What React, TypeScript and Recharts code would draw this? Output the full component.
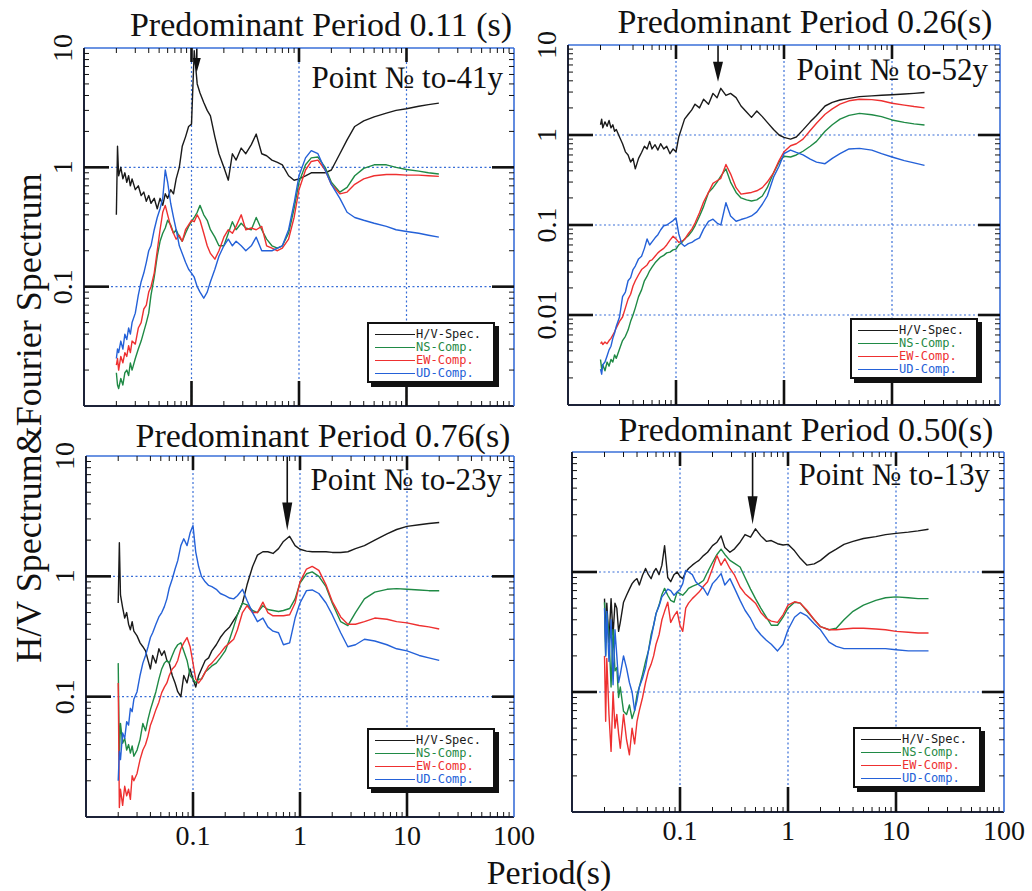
import React from 'react';
import { LineChart, Line, XAxis, YAxis, ReferenceLine, Legend } from 'recharts';

// ---------- DATA ----------
const PERIODS = [
  0.02, 0.0205, 0.021, 0.022, 0.023, 0.024, 0.025, 0.026, 0.027, 0.028,
  0.03, 0.032, 0.034, 0.036, 0.038, 0.04, 0.042, 0.045, 0.048, 0.051,
  0.054, 0.057, 0.06, 0.064, 0.068, 0.072, 0.077, 0.082, 0.088, 0.094,
  0.1, 0.106, 0.113, 0.12, 0.13, 0.14, 0.15, 0.165, 0.18, 0.2,
  0.22, 0.24, 0.26, 0.29, 0.32, 0.36, 0.4, 0.45, 0.5, 0.56,
  0.63, 0.7, 0.8, 0.9, 1.0, 1.15, 1.3, 1.5, 1.75, 2.0,
  2.4, 2.8, 3.3, 4, 5, 6.5, 8, 10, 13, 16, 20,
];

// Panel A: to-41y
const A_HV = [
  0.4, 1.5, 0.85, 1.0, 0.8, 0.9, 0.75, 0.85, 0.7, 0.8,
  0.65, 0.7, 0.58, 0.62, 0.52, 0.58, 0.5, 0.55, 0.45, 0.55,
  0.48, 0.6, 0.55, 0.65, 0.6, 0.8, 1.0, 1.5, 1.8, 2.2,
  2.3, 9.5, 5.0, 4.2, 3.5, 3.0, 2.7, 1.8, 1.3, 1.0,
  0.78, 1.3, 1.15, 1.45, 1.3, 1.55, 1.9, 1.3, 1.25, 1.15,
  1.1, 1.05, 0.85, 0.78, 0.8, 0.85, 0.9, 0.9, 0.9, 0.95,
  1.3, 1.7, 2.2, 2.45, 2.65, 2.85, 3.0, 3.1, 3.25, 3.35, 3.45,
];
const A_NS = [
  0.019, 0.015, 0.014, 0.017, 0.015, 0.019, 0.02, 0.018, 0.023, 0.02,
  0.025, 0.03, 0.035, 0.042, 0.05, 0.06, 0.085, 0.12, 0.18, 0.24,
  0.28, 0.31, 0.36, 0.33, 0.28, 0.3, 0.26, 0.24, 0.28, 0.32,
  0.35, 0.38, 0.42, 0.48, 0.4, 0.36, 0.3, 0.26, 0.22, 0.22,
  0.28, 0.35, 0.3, 0.34, 0.31, 0.3, 0.38, 0.3, 0.25, 0.22,
  0.21, 0.22, 0.28, 0.45, 0.75, 1.05, 1.2, 1.22, 1.0, 0.75,
  0.62, 0.68, 0.85, 0.98, 1.05, 1.05, 1.0, 0.96, 0.93, 0.9, 0.88,
];
const A_EW = [
  0.022, 0.025, 0.02, 0.026, 0.023, 0.028, 0.026, 0.032, 0.028, 0.035,
  0.033, 0.045, 0.05, 0.065, 0.07, 0.09, 0.1, 0.13, 0.2, 0.3,
  0.42, 0.48, 0.4, 0.32, 0.28, 0.25, 0.27, 0.24, 0.3, 0.33,
  0.36, 0.35, 0.4, 0.36, 0.28, 0.22, 0.19, 0.17, 0.2, 0.26,
  0.3, 0.28, 0.32, 0.4, 0.3, 0.31, 0.3, 0.32, 0.22, 0.21,
  0.2, 0.21, 0.25, 0.38, 0.65, 0.95, 1.12, 1.15, 0.95, 0.72,
  0.6, 0.62, 0.72, 0.8, 0.85, 0.87, 0.87, 0.86, 0.86, 0.85, 0.84,
];
const A_UD = [
  0.025, 0.03, 0.028, 0.035, 0.03, 0.04, 0.036, 0.045, 0.04, 0.05,
  0.06, 0.085, 0.11, 0.13, 0.16, 0.2, 0.22, 0.3, 0.38, 0.45,
  0.55, 0.95, 0.75, 0.5, 0.38, 0.3, 0.22, 0.19, 0.16, 0.14,
  0.13, 0.12, 0.1, 0.09, 0.08, 0.09, 0.11, 0.14, 0.18, 0.22,
  0.25, 0.22, 0.24, 0.22, 0.2, 0.22, 0.26, 0.2, 0.2, 0.2,
  0.21, 0.22, 0.3, 0.5, 0.85, 1.2, 1.38, 1.3, 0.95, 0.72,
  0.55, 0.42, 0.38, 0.36, 0.34, 0.32, 0.3, 0.29, 0.28, 0.27, 0.26,
];

// Panel B: to-52y
const B_HV = [
  1.3, 1.5, 1.2, 1.4, 1.25, 1.45, 1.2, 1.3, 1.1, 1.15,
  0.95, 0.8, 0.65, 0.6, 0.5, 0.55, 0.42, 0.55, 0.64, 0.75,
  0.7, 0.85, 0.7, 0.78, 0.68, 0.8, 0.7, 0.75, 0.62, 0.7,
  0.65, 0.95, 1.2, 1.5, 1.7, 1.9, 2.2, 2.0, 2.5, 2.2,
  2.9, 2.6, 3.3, 2.75, 2.9, 2.6, 2.1, 1.8, 1.57, 1.85,
  1.6, 1.38, 1.15, 1.0, 0.94, 0.9, 0.95, 1.14, 1.4, 1.65,
  2.1, 2.3, 2.45, 2.55, 2.67, 2.72, 2.76, 2.8, 2.85, 2.9, 2.97,
];
const B_NS = [
  0.0032, 0.0025, 0.0028, 0.0024, 0.003, 0.0027, 0.0032, 0.003, 0.0036, 0.0033,
  0.0042, 0.0052, 0.0058, 0.0068, 0.0085, 0.01, 0.012, 0.016, 0.019, 0.024,
  0.027, 0.031, 0.034, 0.038, 0.041, 0.044, 0.046, 0.049, 0.05, 0.053,
  0.054, 0.06, 0.064, 0.07, 0.076, 0.085, 0.098, 0.125, 0.16, 0.23,
  0.26, 0.3, 0.35, 0.42, 0.3, 0.23, 0.2, 0.19, 0.185, 0.19,
  0.21, 0.26, 0.38, 0.5, 0.58, 0.57, 0.6, 0.66, 0.75, 0.85,
  1.1, 1.3, 1.5, 1.65, 1.74, 1.68, 1.6, 1.47, 1.38, 1.33, 1.29,
];
const B_EW = [
  0.0048, 0.005, 0.0047, 0.005, 0.0048, 0.0052, 0.0055, 0.006, 0.0065, 0.0072,
  0.0085, 0.0095, 0.012, 0.015, 0.017, 0.021, 0.024, 0.028, 0.032, 0.034,
  0.036, 0.04, 0.041, 0.045, 0.049, 0.052, 0.055, 0.06, 0.068, 0.075,
  0.07, 0.064, 0.066, 0.069, 0.08, 0.09, 0.105, 0.137, 0.18, 0.23,
  0.29, 0.31, 0.33, 0.47, 0.37, 0.26, 0.22, 0.225, 0.23, 0.24,
  0.26, 0.3, 0.38, 0.52, 0.65, 0.76, 0.8, 0.9, 1.12, 1.35,
  1.7, 1.95, 2.2, 2.4, 2.5, 2.47, 2.4, 2.25, 2.15, 2.07, 2.0,
];
const B_UD = [
  0.0025, 0.0022, 0.0028, 0.003, 0.0035, 0.0041, 0.0045, 0.0055, 0.0063, 0.0075,
  0.0095, 0.016, 0.018, 0.024, 0.026, 0.032, 0.035, 0.042, 0.045, 0.055,
  0.07, 0.06, 0.065, 0.072, 0.078, 0.088, 0.098, 0.1, 0.106, 0.112,
  0.12, 0.08, 0.062, 0.058, 0.062, 0.064, 0.068, 0.072, 0.09, 0.11,
  0.116, 0.105, 0.1, 0.177, 0.126, 0.11, 0.115, 0.12, 0.126, 0.14,
  0.17, 0.21, 0.34, 0.45, 0.62, 0.68, 0.64, 0.6, 0.54, 0.5,
  0.48, 0.55, 0.62, 0.7, 0.71, 0.68, 0.62, 0.57, 0.52, 0.49, 0.46,
];

// Panel C: to-23y
const C_HV = [
  0.6, 1.9, 0.7, 0.55, 0.45, 0.5, 0.4, 0.36, 0.42, 0.35,
  0.32, 0.28, 0.26, 0.24, 0.2, 0.17, 0.22, 0.19, 0.25, 0.22,
  0.24, 0.2, 0.19, 0.15, 0.13, 0.11, 0.1, 0.15, 0.13, 0.17,
  0.14, 0.12, 0.15, 0.17, 0.2, 0.21, 0.24, 0.27, 0.31, 0.35,
  0.38, 0.43, 0.48, 0.6, 0.85, 1.2, 1.5, 1.6, 1.6, 1.55,
  1.7, 1.95, 2.15, 1.8, 1.68, 1.62, 1.6, 1.6, 1.6, 1.58,
  1.58, 1.6, 1.7, 1.8, 2.0, 2.25, 2.45, 2.6, 2.68, 2.75, 2.8,
];
const C_NS = [
  0.19, 0.032, 0.06, 0.041, 0.045, 0.036, 0.04, 0.034, 0.039, 0.032,
  0.036, 0.044, 0.06, 0.052, 0.065, 0.078, 0.09, 0.11, 0.14, 0.17,
  0.19, 0.2, 0.19, 0.22, 0.25, 0.27, 0.28, 0.24, 0.2, 0.15,
  0.14, 0.13, 0.14, 0.14, 0.16, 0.17, 0.18, 0.19, 0.21, 0.24,
  0.3, 0.38, 0.48, 0.6, 0.58, 0.52, 0.5, 0.57, 0.53, 0.52,
  0.51, 0.52, 0.54, 0.65, 0.88, 1.05, 1.09, 1.0, 0.82, 0.6,
  0.42, 0.39, 0.5, 0.65, 0.74, 0.78, 0.79, 0.78, 0.77, 0.76, 0.76,
];
const C_EW = [
  0.13, 0.012, 0.017, 0.0125, 0.018, 0.015, 0.017, 0.014, 0.022, 0.02,
  0.023, 0.03, 0.036, 0.04, 0.047, 0.058, 0.065, 0.078, 0.09, 0.108,
  0.12, 0.13, 0.15, 0.17, 0.18, 0.2, 0.25, 0.28, 0.31, 0.26,
  0.19, 0.14, 0.13, 0.14, 0.16, 0.18, 0.19, 0.21, 0.23, 0.26,
  0.28, 0.3, 0.36, 0.5, 0.57, 0.5, 0.5, 0.61, 0.5, 0.47,
  0.47, 0.47, 0.48, 0.6, 0.9, 1.15, 1.21, 1.12, 0.85, 0.62,
  0.46, 0.4, 0.4, 0.42, 0.45, 0.44, 0.42, 0.41, 0.39, 0.38, 0.365,
];
const C_UD = [
  0.02, 0.035, 0.03, 0.05, 0.045, 0.062, 0.058, 0.08, 0.075, 0.095,
  0.11, 0.15, 0.19, 0.22, 0.26, 0.31, 0.34, 0.4, 0.46, 0.5,
  0.56, 0.65, 0.8, 0.95, 1.15, 1.35, 1.8, 2.05, 1.8, 2.3,
  2.64, 1.6, 1.2, 1.0, 0.9, 0.84, 0.82, 0.78, 0.72, 0.69,
  0.66, 0.65, 0.69, 0.78, 0.63, 0.5, 0.42, 0.45, 0.38, 0.35,
  0.34, 0.27, 0.28, 0.45, 0.6, 0.76, 0.77, 0.72, 0.6, 0.48,
  0.34, 0.26, 0.27, 0.3, 0.29, 0.27, 0.25, 0.24, 0.22, 0.21, 0.2,
];

// Panel D: to-13y
const D_HV = [
  0.6, 0.26, 0.55, 0.26, 0.6, 0.3, 0.55, 0.5, 0.32, 0.38,
  0.56, 0.64, 0.72, 0.8, 0.85, 0.88, 0.78, 0.94, 1.07, 0.95,
  0.88, 1.0, 1.07, 0.95, 1.14, 1.66, 0.9, 0.83, 0.95, 1.0,
  0.92, 0.88, 1.0, 1.07, 1.14, 1.2, 1.25, 1.37, 1.46, 1.66,
  1.77, 2.0, 1.6, 1.46, 1.56, 1.77, 2.05, 1.95, 2.29, 2.0,
  1.8, 1.83, 1.72, 1.68, 1.7, 1.5, 1.3, 1.14, 1.17, 1.25,
  1.43, 1.55, 1.7, 1.8, 1.9, 1.97, 2.05, 2.1, 2.15, 2.2, 2.27,
];
const D_NS = [
  0.56, 0.2, 0.45, 0.3, 0.11, 0.33, 0.15, 0.16, 0.09, 0.11,
  0.069, 0.065, 0.078, 0.06, 0.07, 0.095, 0.11, 0.14, 0.18, 0.22,
  0.3, 0.36, 0.45, 0.53, 0.65, 0.73, 0.64, 0.58, 0.56, 0.68,
  0.66, 0.64, 0.68, 0.73, 0.76, 0.78, 0.8, 0.85, 1.0, 1.2,
  1.4, 1.55, 1.4, 1.25, 1.18, 1.1, 0.9, 0.72, 0.6, 0.5,
  0.42, 0.36, 0.36, 0.42, 0.5, 0.56, 0.55, 0.47, 0.4, 0.35,
  0.33, 0.34, 0.4, 0.47, 0.53, 0.58, 0.61, 0.62, 0.61, 0.6, 0.6,
];
const D_EW = [
  0.2, 0.057, 0.19, 0.065, 0.032, 0.1, 0.05, 0.065, 0.045, 0.034,
  0.065, 0.04, 0.03, 0.05, 0.037, 0.057, 0.07, 0.09, 0.12, 0.15,
  0.17, 0.2, 0.25, 0.3, 0.4, 0.47, 0.56, 0.38, 0.43, 0.47,
  0.36, 0.32, 0.5, 0.55, 0.6, 0.64, 0.68, 0.76, 0.83, 1.07,
  1.37, 1.14, 1.29, 1.07, 0.94, 0.75, 0.66, 0.6, 0.55, 0.46,
  0.41, 0.39, 0.38, 0.44, 0.53, 0.565, 0.55, 0.48, 0.4, 0.35,
  0.33, 0.33, 0.335, 0.34, 0.34, 0.335, 0.33, 0.32, 0.315, 0.31, 0.31,
];
const D_UD = [
  0.5, 0.2, 0.47, 0.18, 0.4, 0.115, 0.33, 0.2, 0.12, 0.14,
  0.2, 0.158, 0.12, 0.1, 0.07, 0.085, 0.11, 0.13, 0.16, 0.22,
  0.28, 0.36, 0.45, 0.52, 0.62, 0.66, 0.72, 0.7, 0.64, 0.68,
  0.72, 0.8, 1.03, 1.0, 0.95, 0.83, 0.78, 0.73, 0.64, 0.8,
  0.88, 0.97, 0.78, 0.88, 0.73, 0.58, 0.48, 0.41, 0.34, 0.3,
  0.27, 0.25, 0.22, 0.25, 0.33, 0.42, 0.46, 0.43, 0.37, 0.33,
  0.26, 0.24, 0.23, 0.23, 0.23, 0.23, 0.23, 0.225, 0.22, 0.22, 0.22,
];

const TITLES = [
  'Predominant Period 0.11 (s)',
  'Predominant Period 0.26(s)',
  'Predominant Period 0.76(s)',
  'Predominant Period 0.50(s)',
];
const POINT_LABELS = ['Point № to-41y', 'Point № to-52y', 'Point № to-23y', 'Point № to-13y'];
const PREDOMINANT = [0.112, 0.245, 0.76, 0.47];
const SERIES_NAMES = ['H/V-Spec.', 'NS-Comp.', 'EW-Comp.', 'UD-Comp.'];
const X_DOMAIN = [0.01, 100];
const X_DECADES = [0.01, 0.1, 1, 10];
const X_TICK_LABELS = [0.1, 1, 10, 100];
const MINOR_MULTS = [2, 3, 4, 5, 6, 7, 8, 9];
const Y_AXIS_TITLE = 'H/V Spectrum&Fourier Spectrum';
const X_AXIS_TITLE = 'Period(s)';

// ---------- STYLE ----------
const SERIF = "'Liberation Serif', 'Times New Roman', serif";
const MONO = "'DejaVu Sans Mono', monospace";
const COLORS = ['#1a1a1a', '#1f8a45', '#ee3030', '#2461d8'];
const GRID_BLUE = '#3a6fd8';
const FRAME_DARK = '#1c2238';
const YAXIS_W = 60;
const RIGHT_AX_W = 1;
const TOP_AX_H = 1;
const BOTTOM_AX_H = 40;
const M_TOP = 30;
const M_RIGHT = 30;
const M_BOTTOM = 10;

const PANELS = [
  {
    id: 'A', hv: A_HV, ns: A_NS, ew: A_EW, ud: A_UD,
    plotLeft: 84, plotTop: 48, plotW: 430, plotH: 358,
    yDecades: [0.01, 0.1, 1], yDomain: [0.01, 10], yLabels: [10, 1, 0.1], xLabels: false,
    arrow: { from: 10, to: 6.3, head: 14, hw: 4 },
    legend: [367, 322], title: [321, 36], point: [503, 88],
  },
  {
    id: 'B', hv: B_HV, ns: B_NS, ew: B_EW, ud: B_UD,
    plotLeft: 568, plotTop: 45, plotW: 432, plotH: 360,
    yDecades: [0.001, 0.01, 0.1, 1], yDomain: [0.001, 10], yLabels: [10, 1, 0.1, 0.01], xLabels: false,
    arrow: { from: 10, to: 3.9, head: 20, hw: 5 },
    legend: [850, 318], title: [805, 33], point: [988, 80],
  },
  {
    id: 'C', hv: C_HV, ns: C_NS, ew: C_EW, ud: C_UD,
    plotLeft: 86, plotTop: 456, plotW: 428, plotH: 361,
    yDecades: [0.01, 0.1, 1], yDomain: [0.01, 10], yLabels: [10, 1, 0.1], xLabels: true,
    arrow: { from: 10, to: 2.4, head: 28, hw: 5 },
    legend: [367, 728], title: [323, 447], point: [502, 490],
  },
  {
    id: 'D', hv: D_HV, ns: D_NS, ew: D_EW, ud: D_UD,
    plotLeft: 572, plotTop: 452, plotW: 432, plotH: 360,
    yDecades: [0.01, 0.1, 1], yDomain: [0.01, 10], yLabels: [], xLabels: true,
    arrow: { from: 10, to: 2.5, head: 28, hw: 5 },
    legend: [853, 727], title: [806, 441], point: [990, 485],
  },
];

const buildTicks = (decades: number[], top: number) => {
  const out: number[] = [];
  decades.forEach((d) => {
    out.push(d);
    MINOR_MULTS.forEach((m) => out.push(m * d));
  });
  out.push(top);
  return out;
};
const X_TICKS = buildTicks(X_DECADES, 100);

const isDecade = (v: number) => Math.abs(Math.log10(v) - Math.round(Math.log10(v))) < 1e-6;
const isEdge = (v: number, dom: number[]) => v <= dom[0] * 1.0001 || v >= dom[1] * 0.9999;

const XTick = (props: any) => {
  const { x, y, payload, side, labels } = props;
  const v = payload.value;
  const major = isDecade(v);
  const edge = isEdge(v, X_DOMAIN);
  const dir = side === 'bottom' ? -1 : 1;
  const len = major ? (side === 'bottom' ? 25 : 14) : 5;
  const showLabel = labels && side === 'bottom' && X_TICK_LABELS.some((l) => Math.abs(l - v) < 1e-9);
  return (
    <g>
      {!edge && (
        <line x1={x} y1={y} x2={x} y2={y + dir * len} stroke="#111" strokeWidth={major ? 2.6 : 1} />
      )}
      {showLabel && (
        <text x={x} y={y + 28} textAnchor="middle" fontSize={28} fontFamily={SERIF} fill="#111">
          {String(v)}
        </text>
      )}
    </g>
  );
};

const YTick = (props: any) => {
  const { x, y, payload, side, labels, domain } = props;
  const v = payload.value;
  const major = isDecade(v);
  const edge = isEdge(v, domain);
  const dir = side === 'left' ? 1 : -1;
  const len = major ? (side === 'left' ? 25 : 22) : 5;
  const showLabel = side === 'left' && labels.some((l: number) => Math.abs(l - v) < 1e-12);
  const bx = x - 12;
  return (
    <g>
      {!edge && (
        <line x1={x} y1={y} x2={x + dir * len} y2={y} stroke="#111" strokeWidth={major ? 2.6 : 1} />
      )}
      {showLabel && (
        <text
          x={bx}
          y={y}
          transform={`rotate(-90 ${bx} ${y})`}
          textAnchor="middle"
          fontSize={28}
          fontFamily={SERIF}
          fill="#111"
        >
          {String(v)}
        </text>
      )}
    </g>
  );
};

const makeArrow = (head: number, hw: number) => (p: any) => {
  const { x1, y1, x2, y2 } = p;
  if (x1 == null || y2 == null) return <g />;
  return (
    <g>
      <line x1={x1} y1={y1} x2={x2} y2={y2 - head + 2} stroke="#111" strokeWidth={1.6} />
      <path d={`M${x2 - hw},${y2 - head} L${x2 + hw},${y2 - head} L${x2},${y2} Z`} fill="#111" />
    </g>
  );
};

const LegendContent = (props: any) => {
  const items = [...(props.payload || [])].sort(
    (a: any, b: any) => SERIES_NAMES.indexOf(a.value) - SERIES_NAMES.indexOf(b.value)
  );
  return (
    <div
      style={{
        width: 128,
        height: 61,
        border: '2px solid #111',
        boxShadow: '4px 4px 0 #111',
        background: '#fff',
        boxSizing: 'border-box',
        padding: '4px 0 0 6px',
      }}
    >
      {items.map((it: any) => (
        <div key={it.value} style={{ display: 'flex', alignItems: 'center', height: 13 }}>
          <span style={{ display: 'inline-block', width: 40, borderTop: `1.5px solid ${it.color}` }} />
          <span
            style={{
              fontFamily: MONO,
              fontSize: 12,
              lineHeight: '13px',
              color: it.color,
              marginLeft: 1,
              whiteSpace: 'nowrap',
            }}
          >
            {it.value}
          </span>
        </div>
      ))}
    </div>
  );
};

function Panel({ cfg, idx }: any) {
  const data = PERIODS.map((p, i) => ({ p, hv: cfg.hv[i], ns: cfg.ns[i], ew: cfg.ew[i], ud: cfg.ud[i] }));
  const W = YAXIS_W + cfg.plotW + RIGHT_AX_W + M_RIGHT;
  const H = M_TOP + TOP_AX_H + cfg.plotH + BOTTOM_AX_H + M_BOTTOM;
  const ox = cfg.plotLeft - YAXIS_W;
  const oy = cfg.plotTop - M_TOP - TOP_AX_H;
  const yTicks = buildTicks(cfg.yDecades, cfg.yDomain[1]);
  const yGrid = cfg.yDecades.filter((d: number) => d > cfg.yDomain[0]);
  const keys = ['hv', 'ns', 'ew', 'ud'];
  return (
    <div style={{ position: 'absolute', left: ox, top: oy }}>
      <LineChart width={W} height={H} data={data} margin={{ top: M_TOP, right: M_RIGHT, bottom: M_BOTTOM, left: 0 }}>
        <XAxis
          xAxisId="b"
          dataKey="p"
          type="number"
          scale="log"
          domain={X_DOMAIN}
          allowDataOverflow
          ticks={X_TICKS}
          interval={0}
          height={BOTTOM_AX_H}
          tickSize={0}
          tickMargin={0}
          tickLine={false}
          axisLine={{ stroke: FRAME_DARK, strokeWidth: 2 }}
          tick={(t: any) => <XTick {...t} side="bottom" labels={cfg.xLabels} />}
        />
        <XAxis
          xAxisId="t"
          orientation="top"
          dataKey="p"
          type="number"
          scale="log"
          domain={X_DOMAIN}
          allowDataOverflow
          ticks={X_TICKS}
          interval={0}
          height={TOP_AX_H}
          tickSize={0}
          tickMargin={0}
          tickLine={false}
          axisLine={{ stroke: GRID_BLUE, strokeWidth: 1.6 }}
          tick={(t: any) => <XTick {...t} side="top" labels={false} />}
        />
        <YAxis
          yAxisId="l"
          type="number"
          scale="log"
          domain={cfg.yDomain}
          allowDataOverflow
          ticks={yTicks}
          interval={0}
          width={YAXIS_W}
          tickSize={0}
          tickMargin={0}
          tickLine={false}
          axisLine={{ stroke: FRAME_DARK, strokeWidth: 2 }}
          tick={(t: any) => <YTick {...t} side="left" labels={cfg.yLabels} domain={cfg.yDomain} />}
        />
        <YAxis
          yAxisId="r"
          orientation="right"
          type="number"
          scale="log"
          domain={cfg.yDomain}
          allowDataOverflow
          ticks={yTicks}
          interval={0}
          width={RIGHT_AX_W}
          tickSize={0}
          tickMargin={0}
          tickLine={false}
          axisLine={{ stroke: GRID_BLUE, strokeWidth: 1.6 }}
          tick={(t: any) => <YTick {...t} side="right" labels={[]} domain={cfg.yDomain} />}
        />
        {[0.1, 1, 10].map((g) => (
          <ReferenceLine key={'gx' + g} xAxisId="b" yAxisId="l" x={g} stroke={GRID_BLUE} strokeWidth={1.2} strokeDasharray="2 2.5" />
        ))}
        {yGrid.map((g: number) => (
          <ReferenceLine key={'gy' + g} xAxisId="b" yAxisId="l" y={g} stroke={GRID_BLUE} strokeWidth={1.2} strokeDasharray="2 2.5" />
        ))}
        {keys.map((k, i) => (
          <Line
            key={k}
            xAxisId="b"
            yAxisId="l"
            dataKey={k}
            name={SERIES_NAMES[i]}
            stroke={COLORS[i]}
            strokeWidth={1.4}
            dot={false}
            strokeLinejoin="round"
            isAnimationActive={false}
          />
        ))}
        <ReferenceLine
          xAxisId="b"
          yAxisId="l"
          segment={[
            { x: PREDOMINANT[idx], y: cfg.arrow.from },
            { x: PREDOMINANT[idx], y: cfg.arrow.to },
          ]}
          stroke="#111"
          shape={makeArrow(cfg.arrow.head, cfg.arrow.hw)}
        />
        <Legend
          layout="vertical"
          align="center"
          verticalAlign="middle"
          content={LegendContent}
          wrapperStyle={{ left: cfg.legend[0] - ox, top: cfg.legend[1] - oy, width: 'auto', height: 'auto' }}
        />
      </LineChart>
    </div>
  );
}

export default function App() {
  return (
    <div
      style={{
        position: 'absolute',
        left: 0,
        top: 0,
        width: 1032,
        height: 891,
        background: '#fff',
        overflow: 'hidden',
      }}
    >
      {PANELS.map((cfg, i) => (
        <Panel key={cfg.id} cfg={cfg} idx={i} />
      ))}
      <svg width={1032} height={891} style={{ position: 'absolute', left: 0, top: 0, pointerEvents: 'none' }}>
        {PANELS.map((cfg, i) => (
          <g key={'t' + cfg.id}>
            <text x={cfg.title[0]} y={cfg.title[1]} textAnchor="middle" fontSize={34} fontFamily={SERIF} fill="#111">
              {TITLES[i]}
            </text>
            <text x={cfg.point[0]} y={cfg.point[1]} textAnchor="end" fontSize={31} fontFamily={SERIF} fill="#111">
              {POINT_LABELS[i]}
            </text>
          </g>
        ))}
        <text
          x={41}
          y={418}
          transform="rotate(-90 41 418)"
          textAnchor="middle"
          fontSize={36}
          fontFamily={SERIF}
          fill="#111"
        >
          {Y_AXIS_TITLE}
        </text>
        <text x={549} y={884} textAnchor="middle" fontSize={34} fontFamily={SERIF} fill="#111">
          {X_AXIS_TITLE}
        </text>
      </svg>
    </div>
  );
}
